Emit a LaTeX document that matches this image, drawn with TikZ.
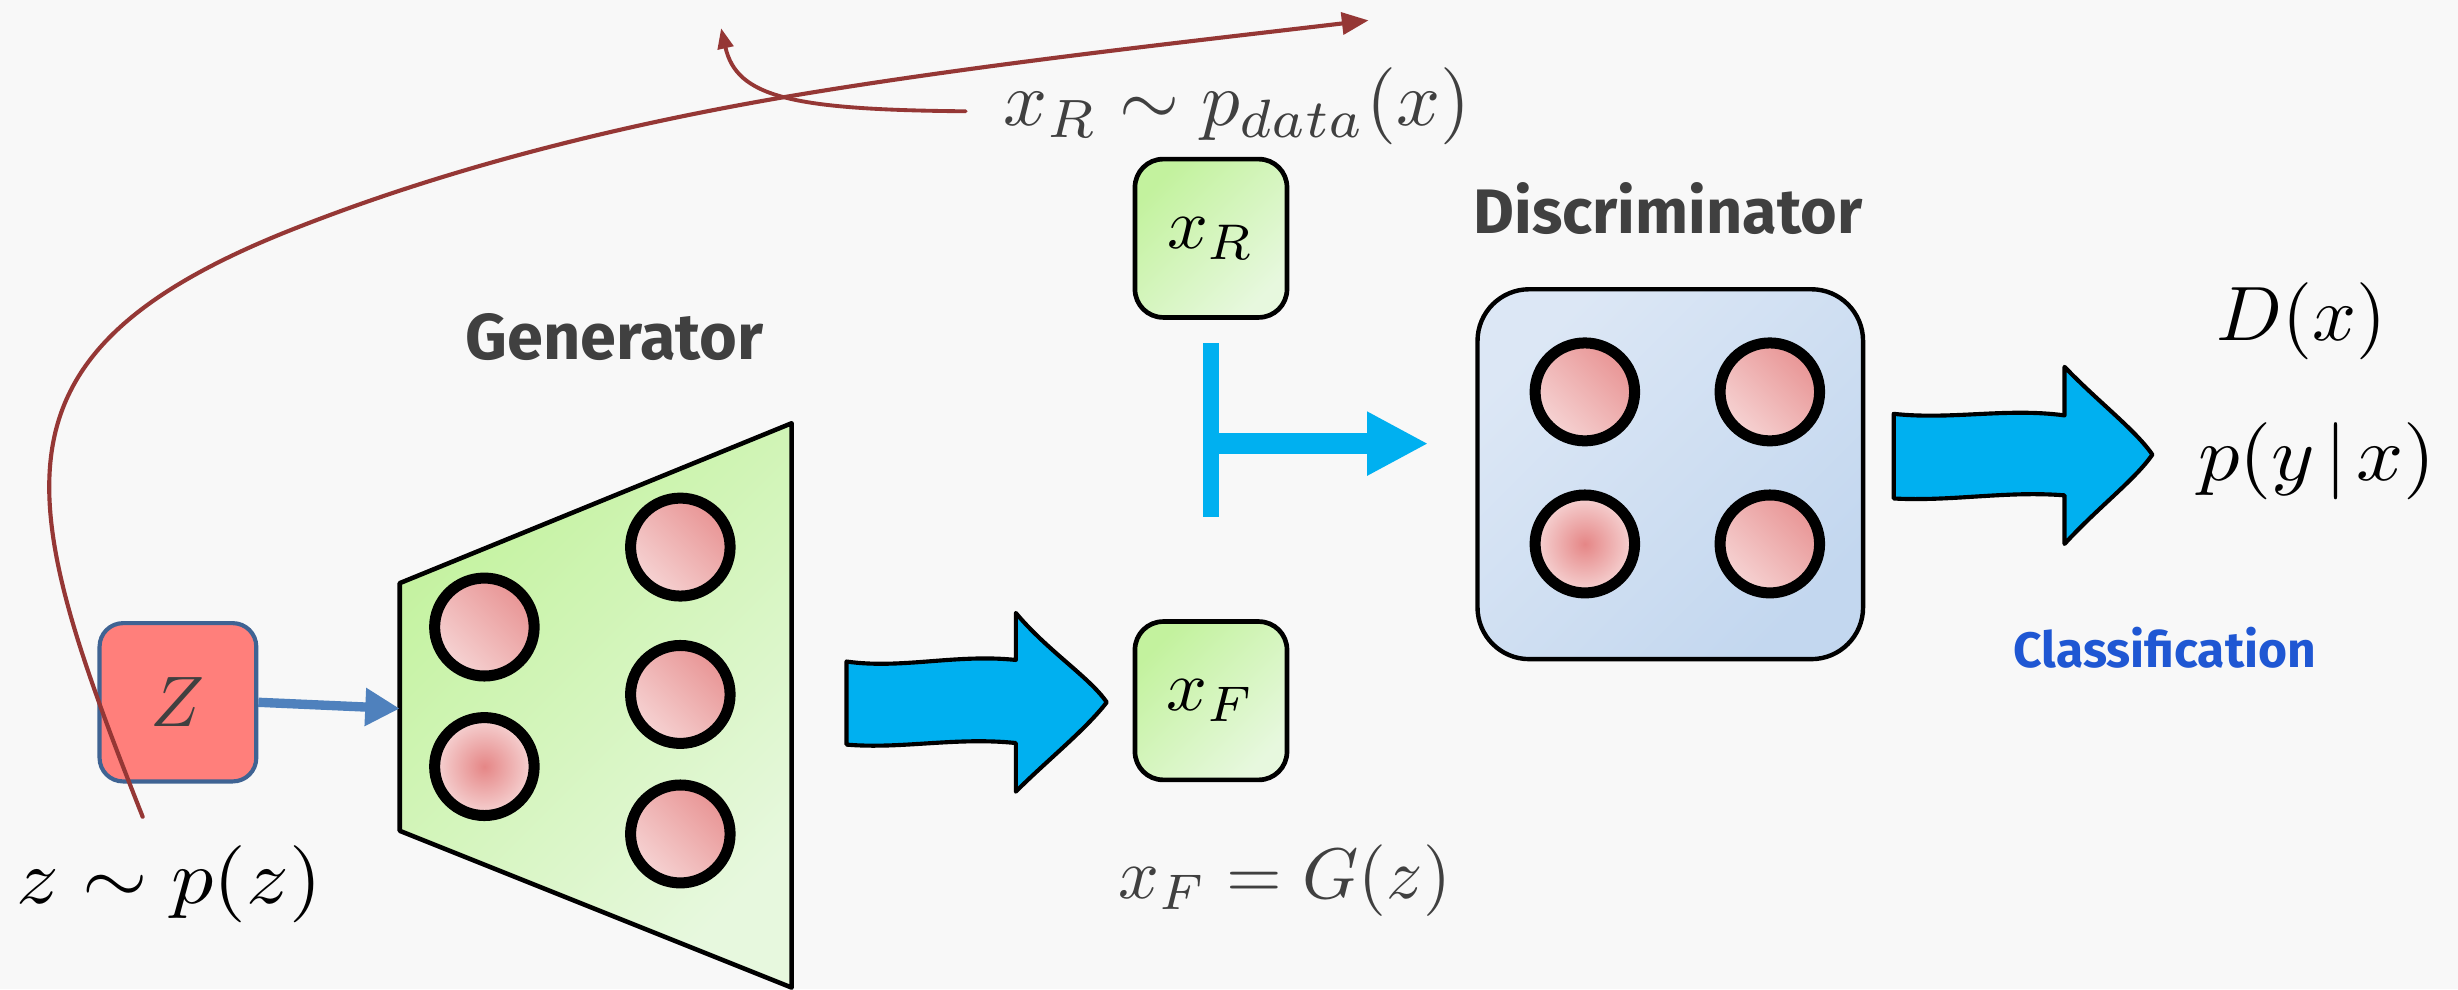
\documentclass[tikz,border=0pt]{standalone}
\usepackage{fontspec}
\newfontfamily\labfont{Fira Sans}
\usetikzlibrary{shapes.geometric,arrows.meta,calc}
\definecolor{bgc}{HTML}{F8F8F8}
\definecolor{brick}{HTML}{953735}
\definecolor{cyanA}{HTML}{00B0F0}
\definecolor{steel}{HTML}{4F81BD}
\definecolor{zfill}{HTML}{FF7F7B}
\definecolor{zline}{HTML}{3F6393}
\definecolor{gA}{HTML}{C3F29E}
\definecolor{gB}{HTML}{E7F8DE}
\definecolor{bA}{HTML}{DCE7F5}
\definecolor{bB}{HTML}{C3D7EF}
\definecolor{pA}{HTML}{E89494}
\definecolor{pB}{HTML}{F6D4D4}
\definecolor{pC}{HTML}{E58686}
\definecolor{txg}{HTML}{404040}
\definecolor{clsb}{HTML}{1F57D3}
\newcommand{\mylabmath}[2][2.8]{\scalebox{#1}[2.8]{\(#2\)}}
\newcommand{\myboxmath}[1]{\scalebox{2.6}{\(#1\)}}
\begin{document}
\begin{tikzpicture}[x=0.02cm,y=-0.02cm,
  neuron/.style={ellipse, draw=black, line width=4pt, minimum width=1.27cm, minimum height=1.25cm, inner sep=0pt, top color=pA, bottom color=pB, shading angle=-45},
  neuronR/.style={neuron, inner color=pC, outer color=pB},
  greenbox/.style={draw=black, line width=1.7pt, rounded corners=0.36cm, minimum width=1.94cm, minimum height=2.02cm, top color=gA, bottom color=gB, shading angle=45, inner sep=0pt},
  discbox/.style={draw=black, line width=1.6pt, rounded corners=0.66cm, minimum width=4.92cm, minimum height=4.72cm, top color=bA, bottom color=bB, shading angle=45},
  zbox/.style={draw=zline, line width=1.5pt, fill=zfill, rounded corners=0.3cm, minimum width=2cm, minimum height=2.02cm, inner sep=0pt, text=txg},
  mathlab/.style={inner sep=0pt},
  fat/.style={fill=cyanA, draw=black, line width=1.5pt, line join=round},
  title/.style={text=txg, inner sep=0pt},
  brickline/.style={draw=brick, line width=1.5pt, line cap=round},
  zarrow/.style={draw=steel, line width=3.4pt, -{Triangle[length=0.44cm,width=0.46cm]}},
  tline/.style={draw=cyanA}
]
\fill[bgc] (0,0) rectangle (1568,631);
\useasboundingbox (0,0) rectangle (1568,631);

% generator body
\draw[line width=1.65pt, line join=round, top color=gA, bottom color=gB, shading angle=45]
  (255,372) -- (505,270) -- (505,630) -- (255,530) -- cycle;
\coordinate (genin) at (255,452);
\node[neuron]  (g1) at (309,400) {};
\node[neuronR] (g2) at (309,489) {};
\node[neuron]  (g3) at (434,349) {};
\node[neuron]  (g4) at (434,443) {};
\node[neuron]  (g5) at (434,532) {};
\node[title] (genlab) at (392,215) {\resizebox{3.8cm}{!}{\labfont\bfseries Generator}};

% latent
\node[zbox] (Z) at (113.5,448) {\myboxmath{Z}};
\draw[zarrow] (Z.east) -- (genin);
\node[mathlab] (zlab) at (108,564) {\mylabmath[3.05]{z \sim p(z)}};

% real / fake boxes
\node[greenbox] (xR) at (772.5,152) {\myboxmath{x_R}};
\node[greenbox] (xF) at (772.5,447) {\myboxmath{x_F}};
\node[mathlab, text=txg] (xRlab) at (789,68) {\mylabmath{x_R \sim p_{data}(x)}};
\node[mathlab, text=txg] (xFlab) at (819.5,562) {\scalebox{2.6}{\(x_F = G(z)\)}};

% generator -> fake arrow
\draw[fat] (540,422) .. controls (575,427) and (610,417) .. (648,421) -- (648,391)
  .. controls (668,415) and (695,432) .. (706,448)
  .. controls (692,466) and (668,485) .. (648,505) -- (648,474)
  .. controls (610,470) and (575,478) .. (540,475) -- cycle;

% discriminator
\node[discbox] (D) at (1065.5,302.5) {};
\node[neuron]  (d1) at (1011,250) {};
\node[neuron]  (d2) at (1129,250) {};
\node[neuronR] (d3) at (1011,347) {};
\node[neuron]  (d4) at (1129,347) {};
\node[title] (disclab) at (1064,133) {\resizebox{4.96cm}{!}{\labfont\bfseries Discriminator}};

% T connector
\coordinate (tTop) at (772.5,219);
\coordinate (tBot) at (772.5,330);
\coordinate (tj) at (772.5,283);
\draw[tline, line width=5.7pt] (tTop) -- (tBot);
\draw[tline, line width=7.4pt, -{Triangle[length=0.78cm,width=0.76cm]}, shorten >=0.6cm] (tj) -- (tj -| D.west);

% output arrow
\draw[fat] (1208,264) .. controls (1245,268) and (1280,260) .. (1317,265) -- (1317,234)
  .. controls (1338,256) and (1362,274) .. (1373,290)
  .. controls (1362,306) and (1338,324) .. (1317,347) -- (1317,316)
  .. controls (1280,313) and (1245,320) .. (1208,318) -- cycle;
\node[mathlab] (Dx) at (1468,205) {\mylabmath{D(x)}};
\node[mathlab] (pyx) at (1478,294) {\mylabmath[3.0]{p(y\mkern2mu|\mkern2mu x)}};
\node[title, text=clsb] (cls) at (1381,413) {\resizebox{3.86cm}{!}{\labfont\bfseries Classification}};

% brick curves
\draw[brickline, -{Triangle[length=0.34cm,width=0.28cm]}]
  (91,521) .. controls (10,316) and (-15,225) .. (190,145)
  .. controls (292,105) and (401,79) .. (500,62)
  .. controls (618,42) and (754,27) .. (873,13);
\draw[brickline, line width=1.4pt, -{Triangle[length=0.26cm,width=0.2cm]}]
  (616,71) .. controls (505,70) and (470,62) .. (460,18);
\end{tikzpicture}
\end{document}
